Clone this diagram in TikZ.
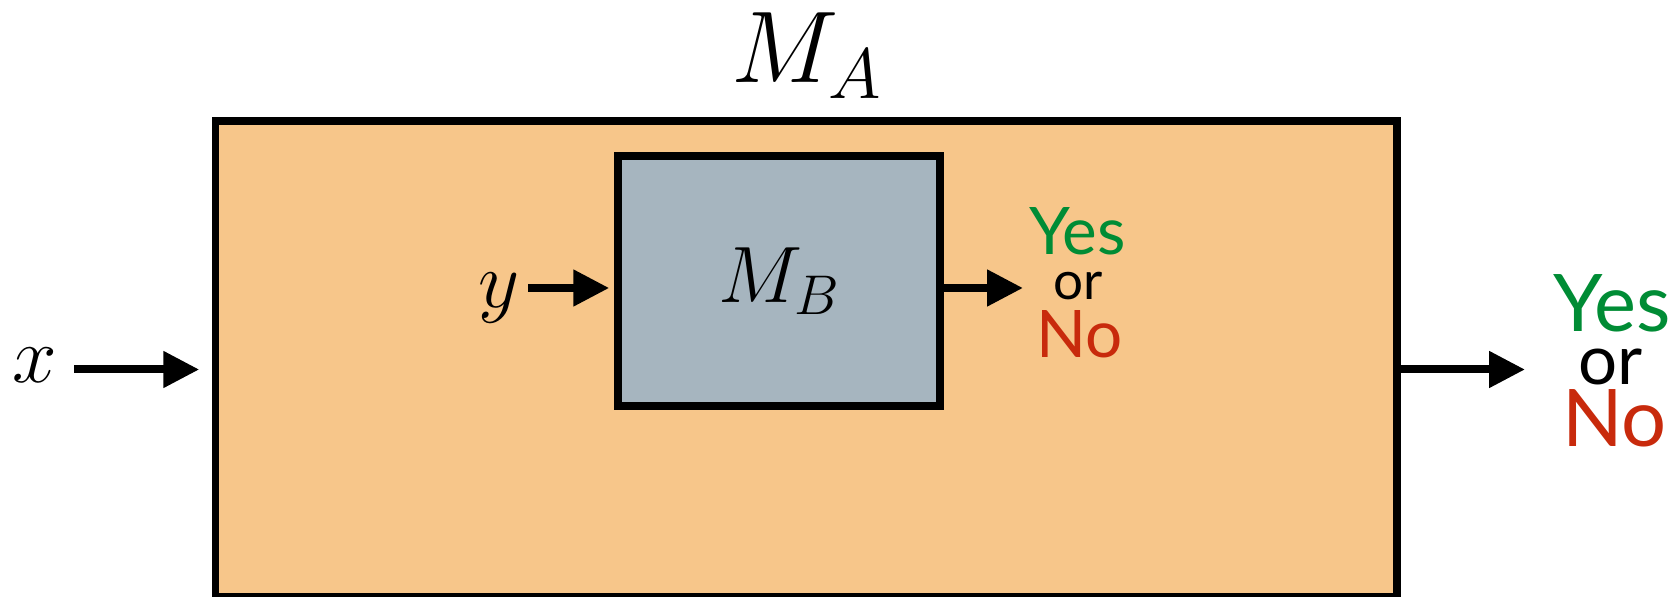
\documentclass[tikz,border=0pt]{standalone}
\usepackage{fix-cm}
\usepackage{fontspec}
\usepackage{tikz}
\usetikzlibrary{arrows.meta}
\newfontfamily\answerfont{Lato}
\definecolor{machinefill}{HTML}{F7C68A}
\definecolor{oraclefill}{HTML}{A6B5BF}
\definecolor{yesgreen}{HTML}{008C35}
\definecolor{nored}{HTML}{C82A0C}
\tikzset{
  machine/.style={draw, line width=7.5pt, fill=machinefill, inner sep=0pt},
  oracle/.style={machine, fill=oraclefill},
  flow/.style={line width=8pt, -{Triangle[length=36pt, width=35pt]}},
  inlabel/.style={inner sep=0pt, anchor=base, font=\fontsize{80}{96}\selectfont},
  answer/.style={inner sep=0pt, anchor=base, font=\answerfont\fontsize{#1}{#1}\selectfont},
}

\begin{document}
\begin{tikzpicture}[x=1pt, y=1pt]
    \useasboundingbox (0,0) rectangle (1676,597);
    \node[machine, minimum width=1181.5pt, minimum height=476pt] (MA) at (806.25,238) {};
    \node[inlabel, font=\fontsize{102}{120}\selectfont] (MAlabel) at (806.5,514) {$M_A$};
    \node[oracle, minimum width=322pt, minimum height=250pt, font=\fontsize{80}{96}\selectfont] (MB) at (779,316) {$M_B$};
    \node[inlabel] (xin) at (35,214) {$x$};
    \node[inlabel] (yin) at (499.5,289.5) {$y$};
    \node[answer=65.6, text=yesgreen] (yesB) at (1077.5,342) {Yes};
    \node[answer=53] (orB) at (1078,297) {or};
    \node[answer=65.6, text=nored] (noB) at (1079.5,239) {No};
    \node[answer=79.5, text=yesgreen] (yesA) at (1612,265) {Yes};
    \node[answer=69] (orA) at (1610.5,212) {or};
    \node[answer=79.5, text=nored] (noA) at (1614.5,150) {No};
    % arrows sit about half an x-height above the baselines
    \draw[flow, shorten <=17pt, shorten >=12.5pt] ([yshift=13.5pt]xin.base east) -- ([yshift=13.5pt]xin.base east -| MA.west);
    \draw[flow, shorten <=8pt, shorten >=5pt] ([yshift=19.5pt]yin.base east) -- ([yshift=19.5pt]yin.base east -| MB.west);
    \draw[flow, shorten >=55pt] ([yshift=19.5pt]MB.east |- yin.base east) -- ([yshift=19.5pt]orB.center |- yin.base east);
    \draw[flow, shorten >=85.5pt] ([yshift=13.5pt]MA.east |- xin.base east) -- ([yshift=13.5pt]orA.center |- xin.base east);
  \end{tikzpicture}
\end{document}
